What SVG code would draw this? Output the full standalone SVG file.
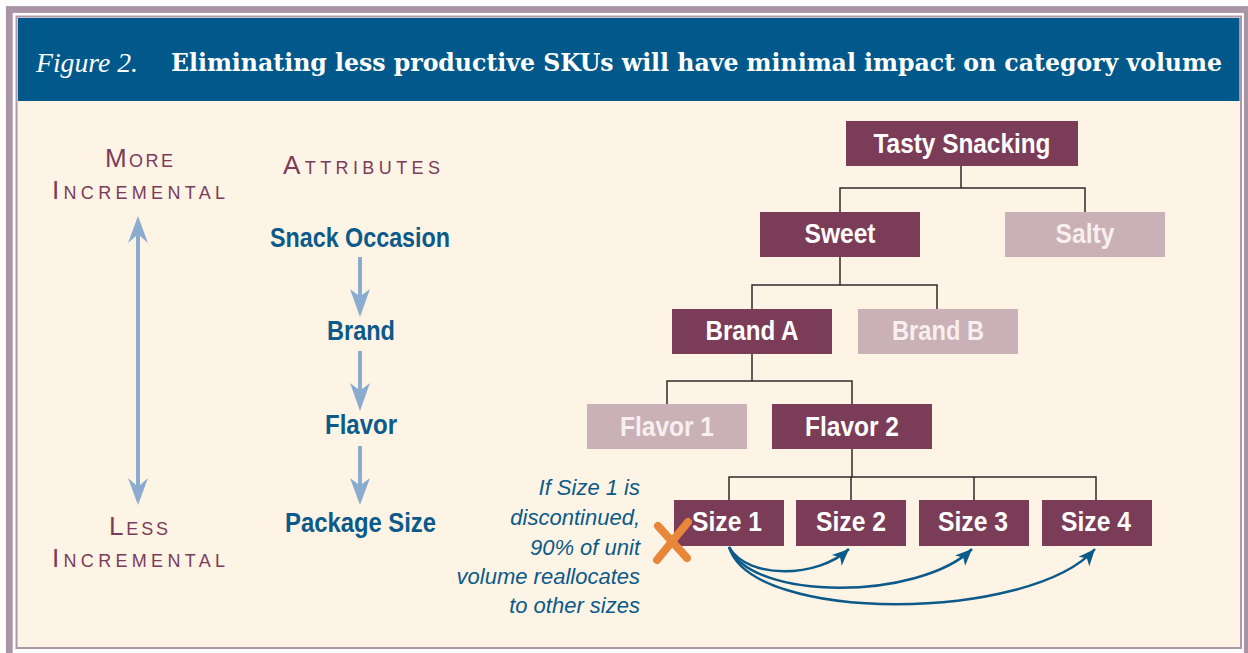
<svg xmlns="http://www.w3.org/2000/svg" width="1248" height="653" viewBox="0 0 1248 653">
<style>
.node{fill:#7b3c58}
.nodel{fill:#c9b1b7}
.nt{font-family:"Liberation Sans",Arial,sans-serif;font-weight:bold;font-size:27px;fill:#ffffff;text-anchor:middle}
.ntl{fill:#f8efee}
.att{font-family:"Liberation Sans",Arial,sans-serif;font-weight:bold;font-size:27px;fill:#0b5a8a}
.cap{font-family:"Liberation Sans",Arial,sans-serif;fill:#7b3c5a}
.note{font-family:"Liberation Sans",Arial,sans-serif;font-style:italic;font-size:22px;fill:#0b5a8a;text-anchor:end}
.conn{fill:none;stroke:#2e2a2b;stroke-width:1.5}
.curve{fill:none;stroke:#0b5a8a;stroke-width:2.5}
.la{fill:#8aaccf}
</style>
<defs>
<marker id="ah" markerUnits="userSpaceOnUse" markerWidth="20" markerHeight="20" viewBox="-16 -8 18 16" refX="0" refY="0" orient="auto">
<path d="M0,0 L-15,-6.5 L-11,0 L-15,6.5 Z" fill="#0b5a8a"/>
</marker>
</defs>
<rect x="0" y="0" width="1248" height="653" fill="#ffffff"/>
<rect x="9.3" y="9.5" width="1238" height="650" fill="none" stroke="#a994a6" stroke-width="6.8"/>
<rect x="16.5" y="16.5" width="1224.5" height="631.5" fill="#fdf4e5" stroke="#ab98ab" stroke-width="2"/>
<rect x="18" y="18" width="1221.5" height="83" fill="#00598a"/>
<g id="title">
<text x="36" y="72" font-family="'Liberation Serif',serif" font-style="italic" font-size="27" fill="#ffffff" textLength="102" lengthAdjust="spacingAndGlyphs">Figure 2.</text>
<text x="171" y="71" font-family="'DejaVu Serif Condensed','DejaVu Serif',serif" font-weight="bold" font-size="25" fill="#ffffff" textLength="1051" lengthAdjust="spacingAndGlyphs">Eliminating less productive SKUs will have minimal impact on category volume</text>
</g>
<g id="scale">
<text class="cap" x="105" y="167" textLength="68" lengthAdjust="spacing"><tspan font-size="26">M</tspan><tspan font-size="18">ORE</tspan></text>
<text class="cap" x="52" y="199" textLength="173" lengthAdjust="spacing"><tspan font-size="26">I</tspan><tspan font-size="18">NCREMENTAL</tspan></text>
<path class="la" d="M138,216 L148,243 L140,236 L140,485 L148,478 L138,505 L128,478 L136,485 L136,236 L128,243 Z"/>
<text class="cap" x="109" y="535" textLength="59" lengthAdjust="spacing"><tspan font-size="26">L</tspan><tspan font-size="18">ESS</tspan></text>
<text class="cap" x="52" y="567" textLength="173" lengthAdjust="spacing"><tspan font-size="26">I</tspan><tspan font-size="18">NCREMENTAL</tspan></text>
</g>
<g id="attributes">
<text class="cap" x="283" y="174" textLength="157" lengthAdjust="spacing"><tspan font-size="26">A</tspan><tspan font-size="18">TTRIBUTES</tspan></text>
<text class="att" x="270" y="247" textLength="180" lengthAdjust="spacingAndGlyphs">Snack Occasion</text>
<path class="la" d="M358,257 L362,257 L362,295 L370,289 L360,317 L350,289 L358,295 Z"/>
<text class="att" x="327" y="340" textLength="68" lengthAdjust="spacingAndGlyphs">Brand</text>
<path class="la" d="M358,351 L362,351 L362,389 L370,383 L360,411 L350,383 L358,389 Z"/>
<text class="att" x="325" y="434" textLength="72" lengthAdjust="spacingAndGlyphs">Flavor</text>
<path class="la" d="M358,446 L362,446 L362,484 L370,478 L360,505 L350,478 L358,484 Z"/>
<text class="att" x="285" y="532" textLength="151" lengthAdjust="spacingAndGlyphs">Package Size</text>
</g>
<g id="connectors">
<path class="conn" d="M961,166 V188 M840,212 V188 H1085 V212"/>
<path class="conn" d="M840,257 V285 M752,309 V285 H937 V309"/>
<path class="conn" d="M752,354 V381 M667,404 V381 H852 V404"/>
<path class="conn" d="M852,449 V477 M729,500 V477 H1096 V500 M851,477 V500 M974,477 V500"/>
<path class="curve" d="M729,547 C748,580 818,578 849,549" marker-end="url(#ah)"/>
<path class="curve" d="M729,547 C752,602 920,600 972,549" marker-end="url(#ah)"/>
<path class="curve" d="M729,547 C752,624 1030,622 1095,549" marker-end="url(#ah)"/>
</g>
<g id="n-tasty"><rect class="node" x="846" y="121" width="232" height="45"/><text class="nt" x="962" y="153" textLength="177" lengthAdjust="spacingAndGlyphs">Tasty Snacking</text></g>
<g id="n-sweet"><rect class="node" x="760" y="212" width="160" height="45"/><text class="nt" x="840" y="243" textLength="71" lengthAdjust="spacingAndGlyphs">Sweet</text></g>
<g id="n-salty"><rect class="nodel" x="1005" y="212" width="160" height="45"/><text class="nt ntl" x="1085" y="243" textLength="59" lengthAdjust="spacingAndGlyphs">Salty</text></g>
<g id="n-branda"><rect class="node" x="672" y="309" width="160" height="45"/><text class="nt" x="752" y="340" textLength="93" lengthAdjust="spacingAndGlyphs">Brand A</text></g>
<g id="n-brandb"><rect class="nodel" x="858" y="309" width="160" height="45"/><text class="nt ntl" x="938" y="340" textLength="92" lengthAdjust="spacingAndGlyphs">Brand B</text></g>
<g id="n-flavor1"><rect class="nodel" x="587" y="404" width="160" height="45"/><text class="nt ntl" x="667" y="436" textLength="94" lengthAdjust="spacingAndGlyphs">Flavor 1</text></g>
<g id="n-flavor2"><rect class="node" x="772" y="404" width="160" height="45"/><text class="nt" x="852" y="436" textLength="94" lengthAdjust="spacingAndGlyphs">Flavor 2</text></g>
<g id="n-size1"><rect class="node" x="674" y="500" width="110" height="46"/><text class="nt" x="727" y="531" textLength="70" lengthAdjust="spacingAndGlyphs">Size 1</text></g>
<g id="n-size2"><rect class="node" x="796" y="500" width="110" height="46"/><text class="nt" x="851" y="531" textLength="70" lengthAdjust="spacingAndGlyphs">Size 2</text></g>
<g id="n-size3"><rect class="node" x="919" y="500" width="110" height="46"/><text class="nt" x="973" y="531" textLength="70" lengthAdjust="spacingAndGlyphs">Size 3</text></g>
<g id="n-size4"><rect class="node" x="1042" y="500" width="110" height="46"/><text class="nt" x="1096" y="531" textLength="70" lengthAdjust="spacingAndGlyphs">Size 4</text></g>
<g id="x-mark">
<path d="M658,526 L687,558 M688,522 L657,560" stroke="#e8873a" stroke-width="8" stroke-linecap="round" fill="none"/>
</g>
<g id="note">
<text class="note" x="640" y="495">If Size 1 is</text>
<text class="note" x="640" y="525">discontinued,</text>
<text class="note" x="640" y="555">90% of unit</text>
<text class="note" x="640" y="584">volume reallocates</text>
<text class="note" x="640" y="613">to other sizes</text>
</g>
</svg>
